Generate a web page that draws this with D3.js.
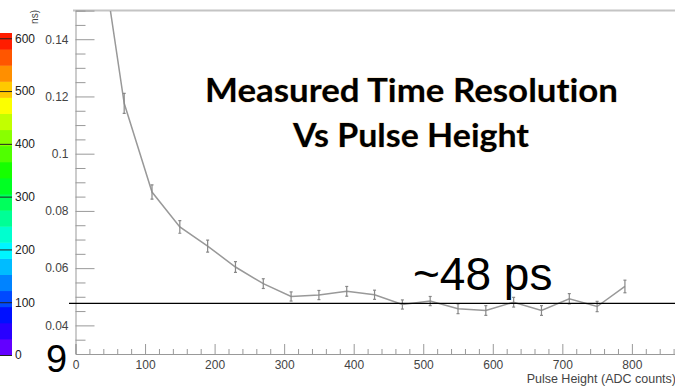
<!DOCTYPE html>
<html>
<head>
<meta charset="utf-8">
<script src="https://cdn.jsdelivr.net/npm/d3@7"></script>
<style>
  body { margin: 0; background: #fff; }
  svg { display: block; }
  text { font-family: "Liberation Sans", Arial, sans-serif; }
</style>
</head>
<body>
<div id="chart"></div>
<script>
// pulse height bins (ADC counts) and measured resolution (ns)
const pulseHeight = [30, 70, 110, 150, 190, 230, 270, 310, 350, 390, 430, 470, 510, 550, 590, 630, 670, 710, 750, 790];
const resolution = [0.183, 0.1176, 0.0866, 0.0744, 0.0677, 0.0604, 0.0546, 0.0501, 0.0506, 0.0519, 0.0507, 0.0473, 0.0485, 0.0458, 0.0452, 0.0481, 0.0452, 0.0493, 0.0466, 0.0536];
const resolutionErr = [0.006, 0.0035, 0.0025, 0.0022, 0.0021, 0.0019, 0.0017, 0.0016, 0.0016, 0.0017, 0.0016, 0.0016, 0.0016, 0.0017, 0.0017, 0.0017, 0.0017, 0.0018, 0.0018, 0.0022];

const xMajorTicks = [0, 100, 200, 300, 400, 500, 600, 700, 800];
const yMajorTicks = [0.04, 0.06, 0.08, 0.1, 0.12, 0.14];
const paletteTicks = [0, 100, 200, 300, 400, 500, 600];
const paletteMax = 610;
const paletteBands = 20;
const markerLevel = 0.0477; // ~48 ps line

const data = pulseHeight.map((d, i) => ({x: d, y: resolution[i], e: resolutionErr[i]}));

const width = 675;
const height = 386;

const svg = d3.select('#chart')
    .append('svg')
        .attr('width', width)
        .attr('height', height);

// Scales
const x = d3.scaleLinear().domain([0, 862]).range([75.5, 675]);
const y = d3.scaleLinear().domain([0.03, 0.15]).range([354, 10.6]);

// Colour palette on the left
const pal = d3.scaleLinear().domain([0, paletteMax]).range([355, 33]);
const bandStep = paletteMax / paletteBands;
svg.append('g')
    .selectAll('rect')
    .data(d3.range(paletteBands))
    .join('rect')
        .attr('x', 0)
        .attr('width', 12)
        .attr('y', i => pal((i + 1) * bandStep))
        .attr('height', i => pal(i * bandStep) - pal((i + 1) * bandStep) + 0.5)
        .attr('fill', i => d3.hsl(270 * (1 - (i + 0.5) / paletteBands), 1, 0.5).formatHex());

const palAxis = svg.append('g')
    .attr('transform', 'translate(12,0)')
    .call(d3.axisRight(pal).tickValues(paletteTicks).tickSize(-12).tickPadding(3));
palAxis.select('.domain').remove();
palAxis.selectAll('line').attr('stroke', '#222');
palAxis.selectAll('text').attr('font-size', 12).attr('fill', '#222');

// y title (only the tail is visible)
svg.append('text')
    .attr('transform', 'translate(38,10) rotate(-90)')
    .attr('text-anchor', 'end')
    .attr('font-size', 10)
    .attr('fill', '#444')
    .text('ns)');

// Frame top
svg.append('line')
    .attr('x1', 73).attr('x2', width)
    .attr('y1', 10.6).attr('y2', 10.6)
    .attr('stroke', '#c4c4c4')
    .attr('stroke-width', 2);

// X axis
const xMinor = d3.range(0, 861, 20).filter(v => v % 100 !== 0);
const xAxisG = svg.append('g').attr('transform', 'translate(0,354)');
xAxisG.call(d3.axisBottom(x).tickValues(xMajorTicks).tickSize(-10).tickPadding(6).tickFormat(d3.format('d')));
xAxisG.append('g').call(d3.axisBottom(x).tickValues(xMinor).tickSize(-5).tickFormat(''))
    .select('.domain').remove();
xAxisG.selectAll('line, path').attr('stroke', '#999');
xAxisG.selectAll('text').attr('font-size', 12).attr('fill', '#444');

// Y axis
const yMinor = d3.range(0.035, 0.1501, 0.005).filter(v => Math.abs((v * 100) % 2) > 0.01 && Math.abs((v * 100) % 2 - 2) > 0.01);
const yAxisG = svg.append('g').attr('transform', 'translate(75.5,0)');
yAxisG.call(d3.axisLeft(y).tickValues(yMajorTicks).tickSize(-19).tickPadding(7).tickFormat(d3.format('')));
yAxisG.append('g').call(d3.axisLeft(y).tickValues(yMinor).tickSize(-10).tickFormat(''))
    .select('.domain').remove();
yAxisG.selectAll('line, path').attr('stroke', '#999');
yAxisG.selectAll('text').attr('font-size', 12).attr('fill', '#444');

// X axis title
svg.append('text')
    .attr('x', 676)
    .attr('y', 383)
    .attr('text-anchor', 'end')
    .attr('font-size', 12.5)
    .attr('fill', '#444')
    .text('Pulse Height (ADC counts)');

// Plot area clip
svg.append('clipPath')
    .attr('id', 'plot-clip')
    .append('rect')
        .attr('x', 75.5).attr('y', 11)
        .attr('width', width - 75.5).attr('height', 343);

const plot = svg.append('g').attr('clip-path', 'url(#plot-clip)');

plot.append('path')
    .datum(data)
    .attr('fill', 'none')
    .attr('stroke', '#999')
    .attr('stroke-width', 1.5)
    .attr('d', d3.line().x(d => x(d.x)).y(d => y(d.y)));

const bars = plot.append('g')
    .attr('stroke', '#888')
    .attr('stroke-width', 1.2)
    .selectAll('g')
    .data(data)
    .join('g');
bars.append('line')
    .attr('x1', d => x(d.x)).attr('x2', d => x(d.x))
    .attr('y1', d => y(d.y - d.e)).attr('y2', d => y(d.y + d.e));
bars.append('line')
    .attr('x1', d => x(d.x) - 1.5).attr('x2', d => x(d.x) + 1.5)
    .attr('y1', d => y(d.y - d.e)).attr('y2', d => y(d.y - d.e));
bars.append('line')
    .attr('x1', d => x(d.x) - 1.5).attr('x2', d => x(d.x) + 1.5)
    .attr('y1', d => y(d.y + d.e)).attr('y2', d => y(d.y + d.e));

// ~48 ps reference line
svg.append('line')
    .attr('x1', 69).attr('x2', width)
    .attr('y1', y(markerLevel)).attr('y2', y(markerLevel))
    .attr('stroke', '#000')
    .attr('stroke-width', 1.3);

svg.append('text')
    .attr('x', 413)
    .attr('y', 290)
    .attr('font-size', 46)
    .attr('fill', '#000')
    .text('~48 ps');

// big "9" at the lower left
svg.append('text')
    .attr('x', 46)
    .attr('y', 372)
    .attr('font-size', 38)
    .attr('fill', '#000')
    .text('9');

// Title
const titleLines = [
    {text: 'Measured Time Resolution', x: 411.5, y: 102, len: 413},
    {text: 'Vs Pulse Height', x: 411, y: 147, len: 236}
];
svg.append('g')
    .selectAll('text')
    .data(titleLines)
    .join('text')
        .attr('x', d => d.x)
        .attr('y', d => d.y)
        .attr('textLength', d => d.len)
        .attr('lengthAdjust', 'spacingAndGlyphs')
        .attr('text-anchor', 'middle')
        .style('font-family', 'Lato, "Open Sans", sans-serif')
        .style('font-weight', 700)
        .style('font-size', '33px')
        .style('font-variant-ligatures', 'none')
        .style('font-feature-settings', '"liga" 0, "clig" 0')
        .style('fill', '#000')
        .style('paint-order', 'stroke')
        .style('stroke', 'rgba(230,150,40,0.35)')
        .style('stroke-width', '1px')
        .text(d => d.text);
</script>
</body>
</html>
